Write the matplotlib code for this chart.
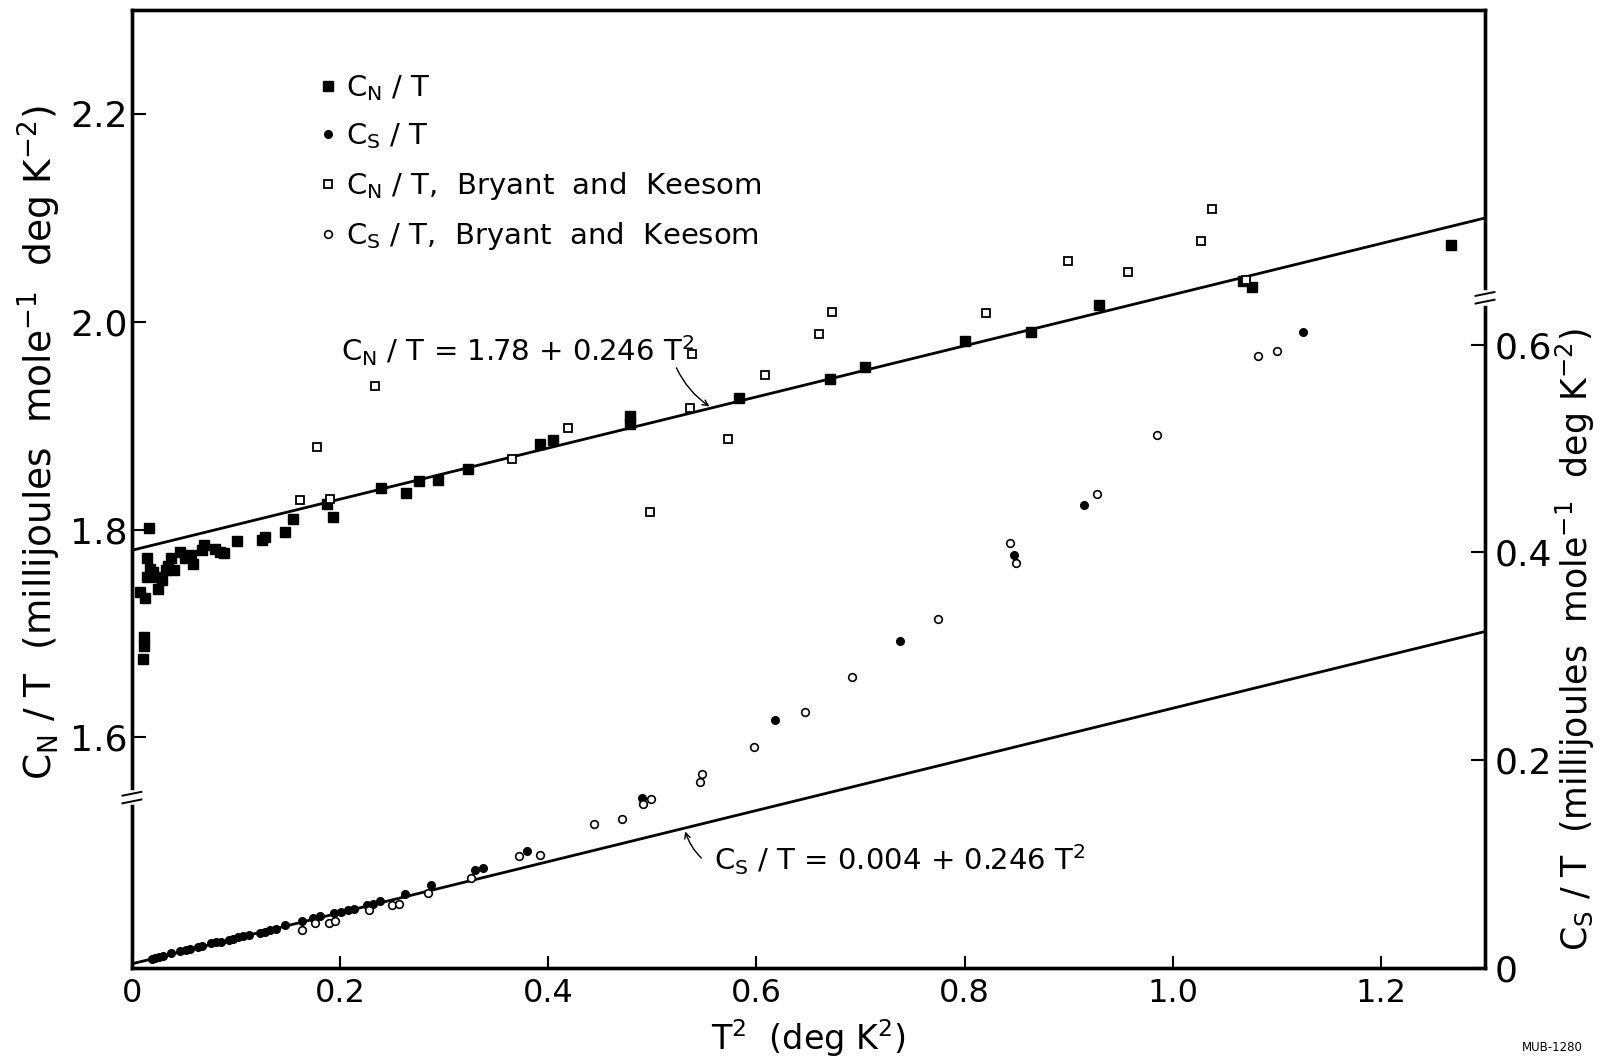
import numpy as np
import matplotlib.pyplot as plt

plt.rcParams['font.family'] = ['DejaVu Sans']
plt.rcParams['mathtext.default'] = 'regular'

# C_N/T, this work (left axis)
cn_x = [0.016, 0.014, 0.008, 0.0125, 0.012, 0.012, 0.011, 0.017, 0.014, 0.024,
        0.025, 0.020, 0.029, 0.035, 0.033, 0.040, 0.038, 0.046, 0.051, 0.059,
        0.057, 0.067, 0.069, 0.080, 0.085, 0.088, 0.101, 0.125, 0.128, 0.147,
        0.155, 0.187, 0.193, 0.239, 0.263, 0.276, 0.294, 0.323, 0.392, 0.405,
        0.479, 0.479, 0.583, 0.671, 0.704, 0.800, 0.864, 0.929, 1.067, 1.076,
        1.267]
cn_y = [1.801, 1.773, 1.740, 1.734, 1.697, 1.688, 1.675, 1.762, 1.754, 1.754,
        1.743, 1.759, 1.751, 1.765, 1.761, 1.761, 1.773, 1.778, 1.773, 1.767,
        1.775, 1.780, 1.785, 1.781, 1.778, 1.777, 1.789, 1.790, 1.793, 1.798,
        1.810, 1.825, 1.812, 1.840, 1.835, 1.847, 1.848, 1.858, 1.882, 1.886,
        1.909, 1.902, 1.927, 1.945, 1.956, 1.981, 1.990, 2.016, 2.039, 2.033,
        2.074]

# C_N/T, Bryant and Keesom
bk_n_x = [0.161, 0.178, 0.190, 0.234, 0.365, 0.419, 0.498, 0.536, 0.538, 0.573,
          0.608, 0.660, 0.673, 0.821, 0.899, 0.957, 1.027, 1.038, 1.070]
bk_n_y = [1.828, 1.879, 1.829, 1.938, 1.868, 1.898, 1.817, 1.917, 1.969, 1.887,
          1.949, 1.988, 2.009, 2.008, 2.058, 2.048, 2.078, 2.108, 2.040]

# C_S/T, this work (right axis)
cs_x = [0.019, 0.022, 0.026, 0.030, 0.038, 0.046, 0.052, 0.056, 0.063, 0.067,
        0.076, 0.081, 0.086, 0.093, 0.097, 0.102, 0.107, 0.112, 0.123, 0.128,
        0.133, 0.138, 0.147, 0.163, 0.174, 0.181, 0.194, 0.201, 0.208, 0.213,
        0.226, 0.232, 0.238, 0.262, 0.287, 0.330, 0.337, 0.380, 0.490, 0.618,
        0.738, 0.847, 0.915, 1.125]
cs_y = [0.009, 0.010, 0.011, 0.012, 0.014, 0.016, 0.017, 0.018, 0.020, 0.021,
        0.024, 0.025, 0.025, 0.027, 0.028, 0.030, 0.031, 0.032, 0.034, 0.035,
        0.037, 0.038, 0.041, 0.045, 0.048, 0.050, 0.053, 0.054, 0.056, 0.057,
        0.061, 0.062, 0.064, 0.071, 0.080, 0.094, 0.096, 0.113, 0.164, 0.239,
        0.315, 0.397, 0.446, 0.612]

# C_S/T, Bryant and Keesom
bk_s_x = [0.163, 0.176, 0.189, 0.195, 0.228, 0.250, 0.257, 0.284, 0.326, 0.372,
          0.392, 0.444, 0.471, 0.491, 0.499, 0.546, 0.548, 0.598, 0.647, 0.692,
          0.774, 0.844, 0.849, 0.927, 0.985, 1.082, 1.100]
bk_s_y = [0.037, 0.043, 0.043, 0.045, 0.056, 0.061, 0.062, 0.072, 0.087, 0.108,
          0.109, 0.139, 0.143, 0.158, 0.163, 0.179, 0.187, 0.213, 0.246, 0.280,
          0.336, 0.409, 0.390, 0.456, 0.513, 0.589, 0.594]

# fitted lines
cn_a, cn_b = 1.78, 0.246
cs_a, cs_b = 0.004, 0.246

fig = plt.figure(figsize=(16.07, 10.60), dpi=100)
ax = fig.add_axes([0.0821, 0.0868, 0.8420, 0.9038])
ax2 = ax.twinx()

ax.set_xlim(0, 1.3)
ax.set_ylim(1.378, 2.300)
ax2.set_ylim(0, 0.922)

xl = np.array([0, 1.3])
ax.plot(xl, cn_a + cn_b * xl, color='black', lw=2)
ax2.plot(xl, cs_a + cs_b * xl, color='black', lw=2)

h1, = ax.plot(cn_x, cn_y, 's', color='black', ms=6.5, ls='none')
h3, = ax.plot(bk_n_x, bk_n_y, 's', mfc='white', mec='black', mew=1.3, ms=6, ls='none')
h2, = ax2.plot(cs_x, cs_y, 'o', color='black', ms=5.5, ls='none')
h4, = ax2.plot(bk_s_x, bk_s_y, 'o', mfc='white', mec='black', mew=1.2, ms=5.5, ls='none')

for a in (ax, ax2):
    for s in a.spines.values():
        s.set_linewidth(2.4)

ax.set_xticks([0, 0.2, 0.4, 0.6, 0.8, 1.0, 1.2])
ax.set_xticklabels(['0', '0.2', '0.4', '0.6', '0.8', '1.0', '1.2'])
ax.set_yticks([1.6, 1.8, 2.0, 2.2])
ax.set_yticklabels(['1.6', '1.8', '2.0', '2.2'])
ax2.set_yticks([0, 0.2, 0.4, 0.6])
ax2.set_yticklabels(['0', '0.2', '0.4', '0.6'])
ax.tick_params(axis='x', direction='in', length=9, width=1.5, labelsize=23, pad=7)
ax.tick_params(axis='y', direction='in', length=10, width=1.5, labelsize=26, pad=3)
ax2.tick_params(axis='y', direction='in', length=10, width=1.5, labelsize=26, pad=7)

ax.set_xlabel('T$^2$  (deg K$^2$)', fontsize=24, labelpad=6)
ax.set_ylabel('C$_N$ / T  (millijoules  mole$^{-1}$  deg K$^{-2}$)', fontsize=27, va='center')
ax.yaxis.set_label_coords(-0.068, 0.548)
ax2.set_ylabel('C$_S$ / T  (millijoules  mole$^{-1}$  deg K$^{-2}$)', fontsize=25,
               rotation=90, va='center')
ax2.yaxis.set_label_coords(1.067, 0.343)

leg = ax2.legend([h1, h2, h3, h4],
                 ['C$_N$ / T', 'C$_S$ / T', 'C$_N$ / T,  Bryant  and  Keesom',
                  'C$_S$ / T,  Bryant  and  Keesom'],
                 loc='upper left', bbox_to_anchor=(0.128, 0.949), frameon=False,
                 fontsize=21, handlelength=0.55, handletextpad=0.35, labelspacing=0.63,
                 borderpad=0)

ax.text(0.201, 1.972, 'C$_N$ / T = 1.78 + 0.246 T$^2$', fontsize=21, ha='left', va='center')
ax.annotate('', xy=(0.557, 1.917), xytext=(0.522, 1.958),
            arrowprops=dict(arrowstyle='->', color='black', lw=1, connectionstyle='arc3,rad=0.15'))
ax2.text(0.559, 0.104, 'C$_S$ / T = 0.004 + 0.246 T$^2$', fontsize=21, ha='left', va='center')
ax2.annotate('', xy=(0.531, 0.134), xytext=(0.549, 0.104),
             arrowprops=dict(arrowstyle='->', color='black', lw=1, connectionstyle='arc3,rad=-0.15'))


def axis_break(a, x, y):
    t = a.transAxes
    a.plot([x, x], [y - 0.005, y + 0.005], color='white', lw=4, transform=t, clip_on=False, zorder=6)
    for dy in (-0.004, 0.004):
        a.plot([x - 0.007, x + 0.007], [y + dy - 0.002, y + dy + 0.002], color='black',
               lw=1.4, transform=t, clip_on=False, zorder=7)


axis_break(ax2, 0.0, (1.542 - 1.378) / 0.922)
axis_break(ax2, 1.0, 0.645 / 0.922)

fig.text(0.985, 0.006, 'MUB-1280', fontsize=8.5, ha='right', va='bottom')

fig.savefig('out.png', dpi=100)
